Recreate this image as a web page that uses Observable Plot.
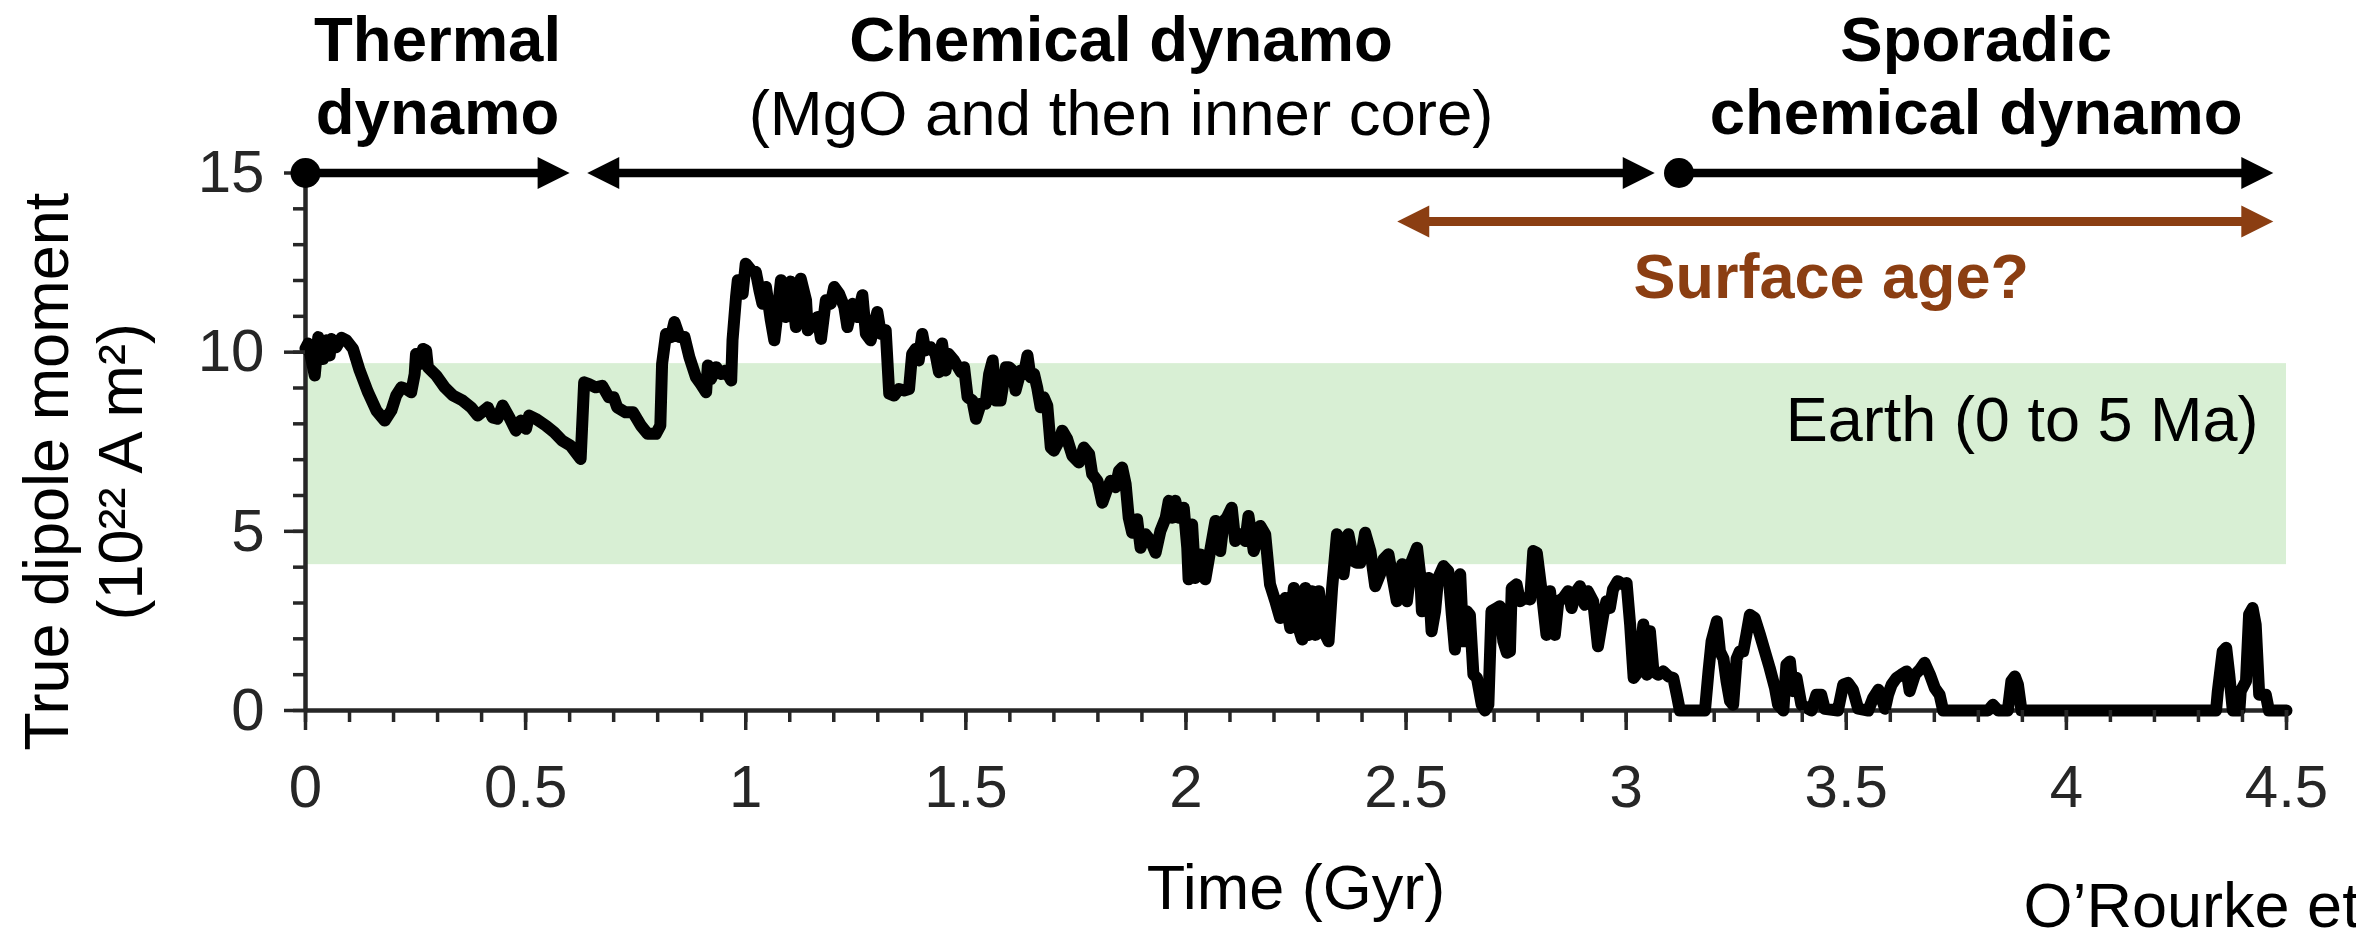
<!DOCTYPE html>
<html>
<head>
<meta charset="utf-8">
<script src="https://cdn.jsdelivr.net/npm/d3@7"></script>
<script src="https://cdn.jsdelivr.net/npm/@observablehq/plot@0.6"></script>
<style>
  html, body { margin: 0; padding: 0; background: #fff; overflow: hidden; }
</style>
</head>
<body>
<div id="chart"></div>
<script>
// Modelled true dipole moment of the core dynamo through time
const timeGyr = [
  0.000, 0.006, 0.021, 0.029, 0.040, 0.048, 0.055, 0.059, 0.070, 0.082, 0.093, 0.108, 0.123, 0.142, 0.161, 0.180,
  0.195, 0.206, 0.218, 0.229, 0.240, 0.248, 0.251, 0.259, 0.267, 0.274, 0.278, 0.297, 0.316, 0.335, 0.357, 0.376,
  0.391, 0.414, 0.425, 0.436, 0.448, 0.463, 0.478, 0.489, 0.501, 0.508, 0.523, 0.546, 0.565, 0.583, 0.602, 0.614,
  0.625, 0.633, 0.644, 0.659, 0.674, 0.689, 0.700, 0.708, 0.727, 0.744, 0.762, 0.777, 0.796, 0.806, 0.810, 0.819,
  0.830, 0.838, 0.850, 0.861, 0.872, 0.887, 0.898, 0.910, 0.914, 0.921, 0.933, 0.944, 0.955, 0.967, 0.970, 0.978,
  0.982, 0.993, 1.000, 1.012, 1.023, 1.031, 1.038, 1.046, 1.057, 1.065, 1.072, 1.080, 1.091, 1.102, 1.114, 1.125,
  1.137, 1.141, 1.152, 1.163, 1.171, 1.182, 1.193, 1.201, 1.212, 1.224, 1.231, 1.243, 1.254, 1.265, 1.273, 1.284,
  1.292, 1.299, 1.307, 1.318, 1.326, 1.337, 1.348, 1.360, 1.371, 1.378, 1.386, 1.393, 1.401, 1.408, 1.420, 1.431,
  1.439, 1.446, 1.454, 1.461, 1.473, 1.489, 1.496, 1.504, 1.515, 1.523, 1.534, 1.545, 1.553, 1.561, 1.568, 1.579,
  1.591, 1.598, 1.606, 1.613, 1.625, 1.632, 1.640, 1.647, 1.655, 1.662, 1.670, 1.677, 1.685, 1.693, 1.700, 1.712,
  1.719, 1.730, 1.742, 1.757, 1.768, 1.780, 1.787, 1.799, 1.810, 1.821, 1.829, 1.840, 1.848, 1.855, 1.863, 1.870,
  1.878, 1.889, 1.897, 1.908, 1.920, 1.931, 1.942, 1.954, 1.961, 1.969, 1.976, 1.984, 1.995, 2.003, 2.006, 2.014,
  2.021, 2.033, 2.044, 2.055, 2.067, 2.078, 2.086, 2.093, 2.104, 2.112, 2.123, 2.135, 2.142, 2.154, 2.161, 2.169,
  2.180, 2.191, 2.203, 2.214, 2.221, 2.226, 2.237, 2.245, 2.256, 2.264, 2.271, 2.279, 2.286, 2.294, 2.302, 2.313,
  2.324, 2.332, 2.343, 2.351, 2.358, 2.369, 2.381, 2.388, 2.396, 2.407, 2.419, 2.430, 2.441, 2.449, 2.460, 2.468,
  2.479, 2.491, 2.502, 2.513, 2.525, 2.532, 2.536, 2.551, 2.558, 2.566, 2.573, 2.585, 2.596, 2.604, 2.611, 2.623,
  2.630, 2.638, 2.645, 2.653, 2.661, 2.672, 2.679, 2.687, 2.694, 2.706, 2.713, 2.721, 2.729, 2.736, 2.740, 2.751,
  2.759, 2.770, 2.782, 2.789, 2.797, 2.808, 2.819, 2.827, 2.838, 2.846, 2.857, 2.868, 2.876, 2.887, 2.895, 2.906,
  2.913, 2.925, 2.936, 2.948, 2.955, 2.963, 2.970, 2.981, 2.993, 3.001, 3.009, 3.017, 3.028, 3.039, 3.047, 3.054,
  3.062, 3.073, 3.084, 3.096, 3.107, 3.115, 3.122, 3.179, 3.187, 3.194, 3.206, 3.213, 3.221, 3.228, 3.236, 3.243,
  3.251, 3.258, 3.266, 3.273, 3.281, 3.292, 3.304, 3.315, 3.326, 3.338, 3.345, 3.357, 3.364, 3.372, 3.379, 3.387,
  3.398, 3.421, 3.432, 3.443, 3.451, 3.481, 3.493, 3.504, 3.515, 3.527, 3.550, 3.561, 3.573, 3.580, 3.588, 3.595,
  3.603, 3.614, 3.625, 3.637, 3.644, 3.656, 3.667, 3.678, 3.690, 3.701, 3.712, 3.720, 3.822, 3.833, 3.845, 3.867,
  3.875, 3.883, 3.890, 3.898, 4.340, 4.344, 4.355, 4.363, 4.370, 4.378, 4.393, 4.396, 4.408, 4.415, 4.423, 4.430,
  4.438, 4.445, 4.453, 4.460, 4.500
];
const dipoleMoment = [
  10.10, 10.24, 9.35, 10.42, 9.81, 10.33, 9.91, 10.37, 10.14, 10.40, 10.33, 10.09, 9.49, 8.88, 8.37, 8.09,
  8.37, 8.79, 9.02, 8.97, 8.88, 9.39, 9.95, 9.67, 10.09, 10.05, 9.58, 9.35, 9.02, 8.79, 8.65, 8.46,
  8.23, 8.46, 8.18, 8.14, 8.51, 8.18, 7.81, 8.09, 7.86, 8.23, 8.14, 7.95, 7.76, 7.53, 7.39, 7.20,
  7.02, 9.16, 9.11, 9.02, 9.06, 8.74, 8.74, 8.46, 8.32, 8.32, 7.95, 7.72, 7.72, 7.95, 9.67, 10.51,
  10.42, 10.84, 10.42, 10.42, 9.86, 9.30, 9.11, 8.88, 9.63, 9.25, 9.58, 9.39, 9.49, 9.21, 10.33, 11.54,
  12.01, 11.63, 12.47, 12.29, 12.24, 11.73, 11.35, 11.82, 10.89, 10.33, 11.07, 12.01, 10.98, 11.97, 10.70, 12.05,
  11.45, 10.61, 10.79, 10.98, 10.37, 11.45, 11.35, 11.82, 11.63, 11.26, 10.70, 11.35, 10.98, 11.59, 10.51, 10.33,
  10.79, 11.12, 10.51, 10.61, 8.84, 8.79, 8.97, 8.93, 8.97, 9.95, 10.09, 9.77, 10.51, 10.05, 10.14, 9.95,
  9.44, 10.24, 9.49, 9.95, 9.77, 9.44, 9.58, 8.74, 8.65, 8.14, 8.56, 8.56, 9.39, 9.77, 8.65, 8.65,
  9.58, 9.58, 9.49, 8.93, 9.49, 9.39, 9.91, 9.30, 9.39, 9.02, 8.46, 8.74, 8.51, 7.34, 7.25, 7.53,
  7.81, 7.58, 7.11, 6.92, 7.34, 7.16, 6.60, 6.41, 5.80, 6.18, 6.41, 6.23, 6.69, 6.78, 6.32, 5.38,
  4.96, 5.34, 4.54, 4.92, 4.73, 4.40, 5.01, 5.38, 5.85, 5.38, 5.85, 5.38, 5.66, 4.54, 3.66, 5.19,
  3.70, 4.35, 3.66, 4.45, 5.29, 4.45, 5.29, 5.38, 5.66, 4.73, 4.92, 4.73, 5.43, 4.45, 4.73, 5.15,
  4.92, 3.52, 3.05, 2.58, 3.05, 3.14, 2.30, 3.42, 2.30, 1.98, 3.42, 2.11, 3.33, 2.11, 3.33, 2.21,
  1.93, 3.42, 4.92, 4.73, 3.80, 4.92, 4.17, 4.12, 4.12, 4.96, 4.45, 3.47, 3.80, 4.22, 4.36, 3.80,
  3.05, 4.08, 3.05, 4.17, 4.54, 3.80, 2.77, 3.70, 2.21, 2.77, 3.70, 4.03, 3.89, 2.67, 1.70, 3.80,
  1.93, 2.77, 2.67, 1.00, 0.91, 0.16, 0.00, 0.16, 2.77, 2.86, 2.91, 1.93, 1.61, 1.65, 3.42, 3.52,
  3.05, 3.14, 3.10, 4.45, 4.40, 3.33, 2.11, 3.33, 2.11, 3.05, 3.14, 3.33, 2.86, 3.33, 3.47, 2.95,
  3.33, 3.05, 1.79, 2.67, 3.05, 2.86, 3.38, 3.61, 3.52, 3.56, 2.40, 0.91, 1.09, 2.40, 1.00, 2.21,
  1.09, 1.00, 1.09, 0.95, 0.91, 0.44, 0.00, 0.00, 1.09, 1.93, 2.49, 1.65, 1.45, 0.82, 0.26, 0.16,
  1.45, 1.65, 1.65, 2.11, 2.67, 2.58, 2.11, 1.65, 1.19, 0.63, 0.16, 0.00, 1.28, 1.37, 0.54, 0.91,
  0.16, 0.00, 0.44, 0.44, 0.05, 0.00, 0.72, 0.77, 0.58, 0.05, 0.00, 0.35, 0.58, 0.35, 0.05, 0.44,
  0.72, 0.91, 1.00, 1.09, 0.54, 1.00, 1.14, 1.33, 1.00, 0.63, 0.44, 0.00, 0.00, 0.16, 0.00, 0.00,
  0.82, 0.95, 0.72, 0.00, 0.00, 0.54, 1.65, 1.75, 1.00, 0.00, 0.00, 0.54, 0.82, 2.68, 2.86, 2.40,
  0.44, 0.44, 0.44, 0.00, 0.00
];

// Axis ticks
const xTickValues = [0, 0.5, 1, 1.5, 2, 2.5, 3, 3.5, 4, 4.5];
const xTickLabels = ["0", "0.5", "1", "1.5", "2", "2.5", "3", "3.5", "4", "4.5"];
const yTickValues = [0, 5, 10, 15];
const yTickLabels = ["0", "5", "10", "15"];

// Range of Earth's dipole moment over 0–5 Ma (10^22 A m^2)
const earthRange = [4.07, 9.68];

// Dynamo regimes (Gyr)
const regimeTitles = ["Thermal\ndynamo", "Chemical dynamo", "Sporadic\nchemical dynamo"];
const regimeNotes = ["", "(MgO and then inner core)", ""];
const regimeStart = [0, 0.64, 3.12];
const regimeEnd = [0.60, 3.065, 4.47];
const regimeStartsAtDot = [true, false, true];

// Possible surface age span (Gyr)
const surfaceAgeSpan = [2.48, 4.47];

const series = timeGyr.map((t, i) => ({t, m: dipoleMoment[i]}));
const regimes = regimeTitles.map((title, i) => ({
  title, note: regimeNotes[i], start: regimeStart[i], end: regimeEnd[i], dot: regimeStartsAtDot[i]
}));
const fromDot = regimes.filter(d => d.dot);
const fromHead = regimes.filter(d => !d.dot);
const noted = regimes.filter(d => d.note);

const ink = "#262626";
const brown = "#8b3e12";
const band = "#d8efd4";
const TOP = 15;           // regime arrows run along the top of the y axis
const SURFACE_LEVEL = 13.65;

// filled triangular arrowhead, tip at the anchor point
const head = {
  draw(ctx, l, r) {
    ctx.moveTo(0, 0);
    ctx.lineTo(-r, l);
    ctx.lineTo(r, l);
    ctx.closePath();
  }
};
const headStyle = {length: 32, r: 16, shape: head, anchor: "start", stroke: "none"};

const chart = Plot.plot({
  width: 2356,
  height: 930,
  marginTop: 172.5,
  marginBottom: 220,
  marginLeft: 305,
  marginRight: 70,
  x: {domain: [0, 4.5]},
  y: {domain: [0, 15]},
  style: {fontFamily: "'Liberation Sans', Arial, Helvetica, sans-serif", background: "white", overflow: "visible"},
  marks: [
    // Earth reference band
    Plot.rect([earthRange], {x1: 0, x2: 4.5, y1: d => d[0], y2: d => d[1], fill: band}),
    Plot.text(["Earth (0 to 5 Ma)"], {
      x: 4.5, y: earthRange[1], dx: -28, dy: 77, textAnchor: "end", lineAnchor: "bottom",
      fontSize: 63, fill: "black"
    }),

    // axis lines
    Plot.ruleX([0], {y1: 0, y2: 15, stroke: ink, strokeWidth: 4.5}),
    Plot.ruleY([0], {x1: 0, x2: 4.5, stroke: ink, strokeWidth: 4.5}),

    // dipole moment history
    Plot.line(series, {
      x: "t", y: "m", stroke: "black", strokeWidth: 12,
      strokeLinejoin: "round", strokeLinecap: "round"
    }),

    // minor and major ticks
    Plot.axisY(d3.range(0, 16), {tickSize: 12, tickFormat: () => "", stroke: ink, strokeWidth: 3.5, label: null}),
    Plot.axisY(yTickValues, {
      tickSize: 21, tickPadding: 20, tickFormat: d => yTickLabels[yTickValues.indexOf(d)],
      fontSize: 60, color: ink, strokeWidth: 3.5, label: null
    }),
    Plot.axisX(d3.range(0, 46).map(i => i / 10), {tickSize: 12, tickFormat: () => "", stroke: ink, strokeWidth: 3.5, label: null}),
    Plot.axisX(xTickValues, {
      tickSize: 20, tickPadding: 34, tickFormat: d => xTickLabels[xTickValues.indexOf(d)],
      fontSize: 60, color: ink, strokeWidth: 3.5, label: null
    }),

    // axis titles
    Plot.text(["True dipole moment\n(10²² A m²)"], {
      frameAnchor: "left", textAnchor: "middle", rotate: -90, dx: -224, dy: 30, lineHeight: 1.175,
      fontSize: 63, fill: "black"
    }),
    Plot.text(["Time (Gyr)"], {frameAnchor: "bottom", dy: 198, lineAnchor: "bottom", fontSize: 63, fill: "black"}),
    Plot.text(["O’Rourke et"], {
      frameAnchor: "bottom-right", textAnchor: "start", dx: -263, dy: 216, lineAnchor: "bottom",
      fontSize: 63, fill: "black"
    }),

    // dynamo regime arrows
    Plot.ruleY(fromDot, {y: TOP, x1: "start", x2: "end", stroke: "black", strokeWidth: 8.5, insetRight: 20}),
    Plot.ruleY(fromHead, {y: TOP, x1: "start", x2: "end", stroke: "black", strokeWidth: 8.5, insetLeft: 20, insetRight: 20}),
    Plot.dot(fromDot, {x: "start", y: TOP, r: 15, fill: "black", stroke: "none"}),
    Plot.vector(regimes, {x: "end", y: TOP, rotate: 90, fill: "black", ...headStyle}),
    Plot.vector(fromHead, {x: "start", y: TOP, rotate: -90, fill: "black", ...headStyle}),
    Plot.text(regimes, {
      x: d => (d.start + d.end) / 2, y: TOP, text: "title", dy: -164.3,
      lineAnchor: "top", lineHeight: 1.15, fontSize: 63.5, fontWeight: "bold", fill: "black"
    }),
    Plot.text(noted, {
      x: d => (d.start + d.end) / 2, y: TOP, text: "note", dy: -38.5,
      lineAnchor: "bottom", fontSize: 63.5, fill: "black"
    }),

    // surface age arrow
    Plot.ruleY([surfaceAgeSpan], {
      y: SURFACE_LEVEL, x1: d => d[0], x2: d => d[1], stroke: brown, strokeWidth: 9,
      insetLeft: 20, insetRight: 20
    }),
    Plot.vector([surfaceAgeSpan], {x: d => d[1], y: SURFACE_LEVEL, rotate: 90, fill: brown, ...headStyle}),
    Plot.vector([surfaceAgeSpan], {x: d => d[0], y: SURFACE_LEVEL, rotate: -90, fill: brown, ...headStyle}),
    Plot.text(["Surface age?"], {
      x: (surfaceAgeSpan[0] + surfaceAgeSpan[1]) / 2, y: SURFACE_LEVEL, dy: 77, dx: -4,
      lineAnchor: "bottom", fontSize: 63, fontWeight: "bold", fill: brown
    })
  ]
});

document.getElementById("chart").appendChild(chart);
</script>
</body>
</html>
